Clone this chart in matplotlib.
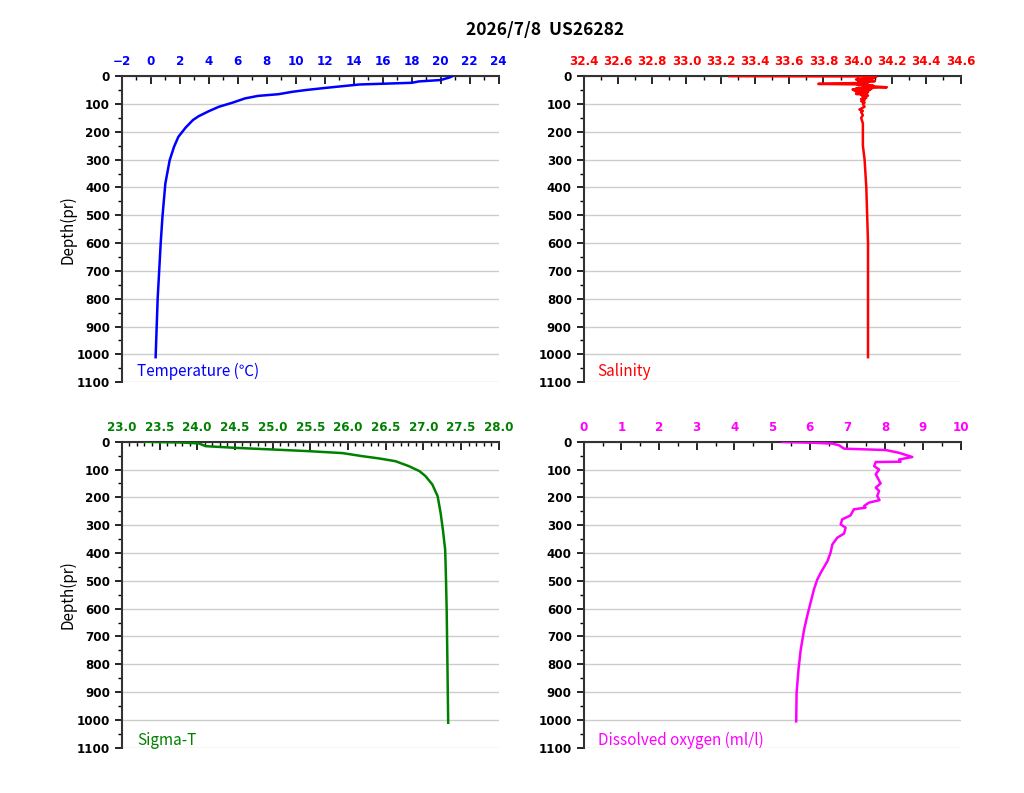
import numpy as np
import matplotlib
matplotlib.use("Agg")
import matplotlib.pyplot as plt
from matplotlib.ticker import MultipleLocator, FuncFormatter

plt.rcParams['font.family'] = ['Noto Sans CJK JP', 'DejaVu Sans']

title = "2026/7/8  US26282"

# temperature profile
temp_depth = [0, 5, 14, 19, 24, 30, 42, 50, 56, 65, 71, 80, 96, 110, 126, 144, 158, 185,
              218, 254, 302, 386, 506, 600, 800, 1010]
temp_vals = [20.8, 20.6, 20.0, 18.5, 18.0, 14.4, 12.1, 10.7, 9.8, 8.8, 7.4, 6.5, 5.6, 4.7,
             4.0, 3.3, 2.9, 2.4, 1.9, 1.6, 1.3, 1.0, 0.8, 0.68, 0.47, 0.33]

# salinity profile
sal_depth = [0, 1, 2, 4, 6, 8, 10, 12, 14, 16, 18, 20, 22, 24, 26, 28, 30, 32, 34, 36, 38,
             40, 42, 44, 46, 48, 50, 52, 54, 56, 58, 60, 62, 64, 66, 68, 70, 74, 78, 82, 86,
             90, 95, 100, 110, 120, 125, 130, 140, 150, 170, 200, 250, 300, 400, 500, 600,
             700, 800, 900, 1010]
sal_vals = [33.25, 34.11, 34.08, 34.10, 34.04, 34.09, 34.03, 33.99, 34.07, 34.02, 34.10,
            34.05, 34.01, 34.06, 33.90, 33.77, 34.05, 34.00, 34.09, 34.03, 34.12, 34.17,
            34.06, 33.99, 34.08, 33.97, 34.07, 33.98, 34.05, 33.99, 34.06, 34.01, 34.05,
            33.99, 34.04, 34.02, 34.06, 34.03, 34.05, 34.02, 34.04, 34.02, 34.04, 34.03,
            34.04, 34.01, 34.03, 34.02, 34.03, 34.02, 34.03, 34.03, 34.03, 34.04, 34.05,
            34.055, 34.06, 34.06, 34.06, 34.06, 34.06]

# sigma-t profile
sig_depth = [0, 3, 6, 16, 22, 28, 34, 41, 52, 60, 70, 88, 106, 124, 154, 196, 257, 317,
             389, 485, 606, 800, 1010]
sig_vals = [23.3, 23.8, 24.02, 24.11, 24.5, 25.0, 25.48, 25.93, 26.19, 26.41, 26.63, 26.81,
            26.95, 27.03, 27.12, 27.19, 27.23, 27.26, 27.29, 27.30, 27.31, 27.32, 27.33]

# dissolved oxygen profile
oxy_depth = [1, 4, 7, 13, 25, 30, 40, 55, 64, 72, 73, 88, 100, 117, 150, 165, 177, 195,
             210, 219, 231, 237, 243, 265, 279, 297, 309, 330, 345, 369, 399, 429, 471,
             495, 531, 579, 627, 675, 747, 819, 903, 1005]
oxy_vals = [5.27, 6.16, 6.6, 6.78, 6.91, 8.02, 8.37, 8.72, 8.37, 8.41, 7.75, 7.71, 7.84,
            7.75, 7.88, 7.75, 7.84, 7.79, 7.85, 7.57, 7.44, 7.48, 7.17, 7.08, 6.86, 6.82,
            6.95, 6.91, 6.73, 6.6, 6.55, 6.47, 6.29, 6.2, 6.11, 6.02, 5.93, 5.85, 5.76,
            5.70, 5.65, 5.64]


def fmt0(v, pos):
    return ('%d' % round(v)).replace('-', '\u2212')


def fmt1(v, pos):
    return '%.1f' % v


fig = plt.figure(figsize=(10.24, 7.93), dpi=100)

W = 0.368
H = 0.386
panels = [
    # x, y, vals, depth, colour, xlim, major, minor, fmt, label
    (0.119, 0.518, temp_vals, temp_depth, '#0000ff', (-2, 24), 2, 1, fmt0, 'Temperature (℃)'),
    (0.570, 0.518, sal_vals, sal_depth, '#ff0000', (32.4, 34.6), 0.2, 0.1, fmt1, 'Salinity'),
    (0.119, 0.057, sig_vals, sig_depth, '#008000', (23.0, 28.0), 0.5, 0.1, fmt1, 'Sigma-T'),
    (0.570, 0.057, oxy_vals, oxy_depth, '#ff00ff', (0, 10), 1, 0.5, fmt0, 'Dissolved oxygen (ml/l)'),
]

for i, (x0, y0, vals, dep, col, xl, maj, mnr, fmt, lab) in enumerate(panels):
    ax = fig.add_axes([x0, y0, W, H])
    ax.plot(vals, dep, color=col, lw=1.8, zorder=3)
    ax.set_xlim(*xl)
    ax.set_ylim(1100, 0)
    ax.xaxis.tick_top()
    ax.xaxis.set_major_locator(MultipleLocator(maj))
    ax.xaxis.set_minor_locator(MultipleLocator(mnr))
    ax.xaxis.set_major_formatter(FuncFormatter(fmt))
    ax.yaxis.set_major_locator(MultipleLocator(100))
    ax.yaxis.set_minor_locator(MultipleLocator(50))
    ax.tick_params(axis='x', which='major', direction='in', length=6, width=1.2,
                   colors='black', labelcolor=col, labelsize=8.6, pad=5.5)
    ax.tick_params(axis='x', which='minor', direction='in', length=3, width=1)
    ax.tick_params(axis='y', which='major', direction='out', length=5, width=1.2,
                   labelsize=8.6)
    ax.tick_params(axis='y', which='minor', direction='out', length=3, width=1)
    for t in ax.get_xticklabels() + ax.get_yticklabels():
        t.set_family('DejaVu Sans')
        t.set_fontweight('bold')
    for s in ['right', 'bottom']:
        ax.spines[s].set_visible(False)
    for s in ['top', 'left']:
        ax.spines[s].set_linewidth(1.5)
        ax.spines[s].set_color('#333333')
    ax.grid(axis='y', which='major', color='#cccccc', lw=1)
    ax.set_axisbelow(True)
    ax.patch.set_alpha(0)
    ax.text(0.04 if i % 2 == 0 else 0.037, 1062 if i < 2 else 1072, lab, color=col,
            fontsize=11, va='center', ha='left',
            transform=ax.get_yaxis_transform())
    if i % 2 == 0:
        ax.set_ylabel('Depth(pr)', fontsize=11, labelpad=0)

fig.text(0.532, 0.962, title, ha='center', va='center', fontsize=12.5, fontweight='bold')

fig.savefig('out.png', dpi=100)
